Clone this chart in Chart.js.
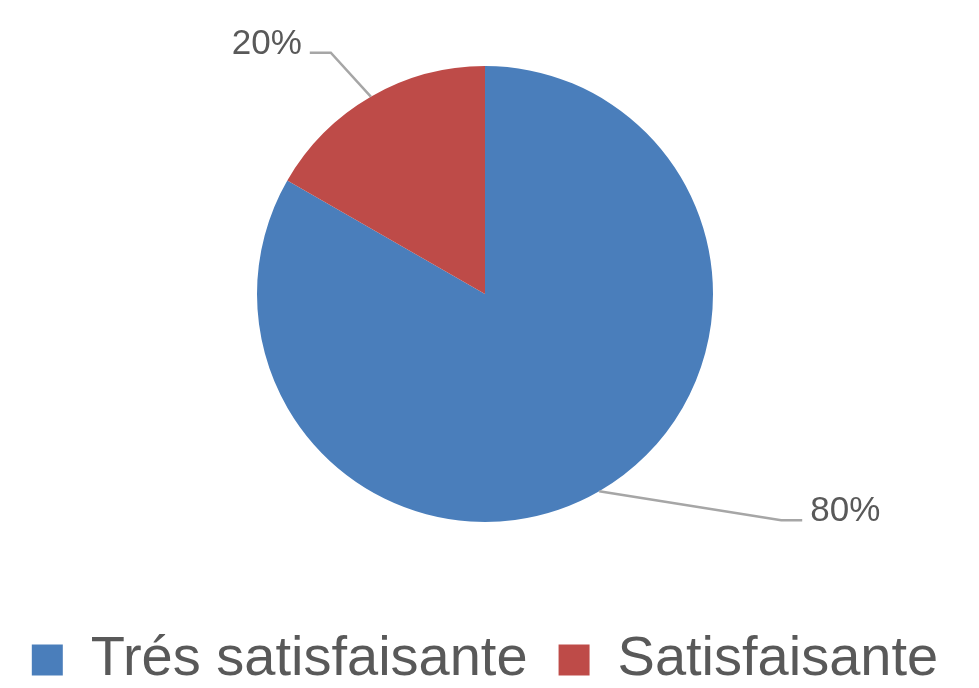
<!DOCTYPE html>
<html>
<head>
<meta charset="utf-8">
<script src="https://cdn.jsdelivr.net/npm/chart.js@4/dist/chart.umd.min.js"></script>
<style>
    html, body { margin: 0; padding: 0; background: #fff; overflow: hidden; }
    #wrap { width: 979px; height: 698px; position: relative; }
</style>
</head>
<body>
<div id="wrap"><canvas id="pieChart"></canvas></div>
<script>
// data
const categories = ['Trés satisfaisante', 'Satisfaisante'];
const values = [83.3, 16.7];          // slice sizes as drawn
const labelTexts = ['80%', '20%'];    // labels as printed on the chart
const colors = ['#4a7ebb', '#be4b48'];

// leader line elbows, relative to where the line leaves the slice
const leaderOffsets = [[182, 29], [-40, -44]];

const textColor = '#595959';

// draws the percent labels with grey leader lines
const leaderLabels = {
    id: 'leaderLabels',
    afterDatasetsDraw(chart) {
        const ctx = chart.ctx;
        const meta = chart.getDatasetMeta(0);
        ctx.save();
        meta.data.forEach((arc, i) => {
            const p = arc.getProps(['x', 'y', 'startAngle', 'endAngle', 'outerRadius']);
            const mid = (p.startAngle + p.endAngle) / 2;
            const ax = p.x + Math.cos(mid) * p.outerRadius;
            const ay = p.y + Math.sin(mid) * p.outerRadius;
            const ex = ax + leaderOffsets[i][0];
            const ey = ay + leaderOffsets[i][1];
            const dir = leaderOffsets[i][0] < 0 ? -1 : 1;
            const lx = ex + dir * 21;

            ctx.strokeStyle = '#a6a6a6';
            ctx.lineWidth = 2.5;
            ctx.beginPath();
            ctx.moveTo(ax, ay);
            ctx.lineTo(ex, ey);
            ctx.lineTo(lx, ey);
            ctx.stroke();

            ctx.fillStyle = textColor;
            ctx.font = '35px "Liberation Sans", Arial, sans-serif';
            ctx.textAlign = dir < 0 ? 'right' : 'left';
            ctx.textBaseline = 'alphabetic';
            ctx.fillText(labelTexts[i], lx + dir * 8, ey + 1);
        });
        ctx.restore();
    }
};

new Chart(document.getElementById('pieChart'), {
    type: 'pie',
    data: {
        labels: categories,
        datasets: [{
            data: values,
            backgroundColor: colors,
            borderWidth: 0,
            hoverOffset: 0
        }]
    },
    options: {
        responsive: true,
        maintainAspectRatio: false,
        animation: false,
        layout: {
            padding: { top: 66, right: 9, left: 0, bottom: 0 }
        },
        plugins: {
            tooltip: { enabled: false },
            legend: {
                position: 'bottom',
                title: {
                    display: true,
                    text: '',
                    font: { size: 10, lineHeight: 1 },
                    padding: { top: 0, bottom: 69 }
                },
                labels: {
                    boxWidth: 31,
                    boxHeight: 31,
                    padding: 31,
                    color: textColor,
                    font: { family: '"Liberation Sans", Arial, sans-serif', size: 56 }
                }
            }
        }
    },
    plugins: [leaderLabels]
});
</script>
</body>
</html>
